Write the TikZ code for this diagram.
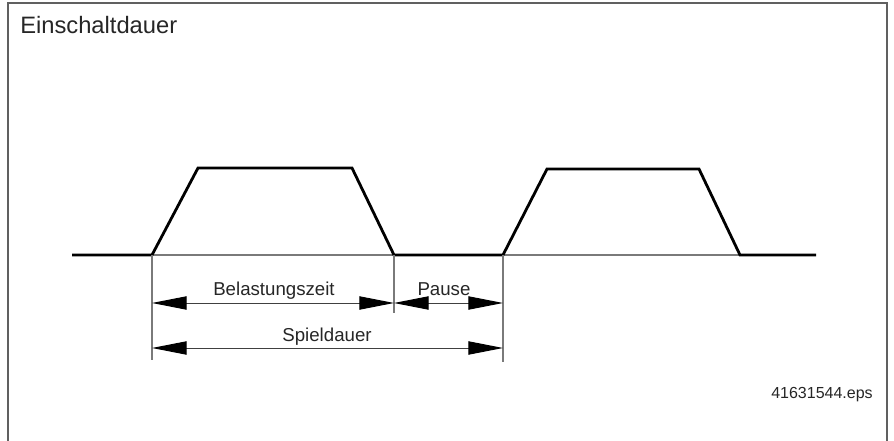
\documentclass[tikz,border=0pt]{standalone}
\usepackage{fontspec}
\setmainfont{Liberation Sans}
\usetikzlibrary{arrows.meta}
\definecolor{framegray}{HTML}{606060}
\definecolor{thingray}{HTML}{7A7A7A}
\tikzset{
  frameline/.style={draw=framegray, line width=1.4pt},
  signal/.style={draw=black, line width=2.1pt, line join=miter},
  baseline/.style={draw=thingray, line width=0.9pt},
  extline/.style={draw=thingray, line width=0.9pt},
  dimline/.style={draw=black!75, line width=0.7pt},
  tip/.tip={Triangle[length=26pt, width=10pt, fill=black, color=black]},
  lbl/.style={font=\fontsize{14pt}{16pt}\selectfont, text=black!85, anchor=base, inner sep=0pt},
}
\begin{document}
\begin{tikzpicture}[x=0.75pt, y=-0.75pt]
\useasboundingbox (0,0) rectangle (894,441);
% frame
\coordinate (fbl) at (8,441);
\coordinate (ftl) at (8,3);
\coordinate (ftr) at (887,3);
\coordinate (fbr) at (887,441);
\draw[frameline] (fbl) -- (ftl) -- (ftr) -- (fbr);
\node[font=\fontsize{17.8pt}{20pt}\selectfont, text=black!85, anchor=base west, inner sep=0pt] (title) at (20,34) {Einschaltdauer};
\node[font=\fontsize{12pt}{14pt}\selectfont, text=black!85, anchor=base east, inner sep=0pt] (fname) at (873,399) {41631544.eps};
% key points
\coordinate (s0) at (72,255);
\coordinate (a0) at (152,255);
\coordinate (a1) at (198,168);
\coordinate (a2) at (352,168);
\coordinate (a3) at (394,255);
\coordinate (b0) at (503,255);
\coordinate (b1) at (547,169);
\coordinate (b2) at (699,169);
\coordinate (b3) at (740,255);
\coordinate (e0) at (816,255);
% thin baseline
\draw[baseline] (a0) -- (b3);
% signal
\draw[signal] (s0) -- (a0) -- (a1) -- (a2) -- (a3) -- (b0) -- (b1) -- (b2) -- (b3) -- (e0);
% extension lines
\coordinate (a0d) at (152,360);
\coordinate (a3d) at (394,313);
\coordinate (b0d) at (503,362);
\draw[extline] (a0) -- (a0d);
\draw[extline] (a3) -- (a3d);
\draw[extline] (b0) -- (b0d);
% dimension arrows
\coordinate (d1l) at (152,303);
\coordinate (d1r) at (394,303);
\coordinate (d2r) at (503,303);
\coordinate (d3l) at (152,348);
\coordinate (d3r) at (503,348);
\draw[dimline, {tip}-{tip}] (d1l) -- (d1r);
\draw[dimline, {tip}-{tip}] (d1r) -- (d2r);
\draw[dimline, {tip}-{tip}] (d3l) -- (d3r);
\node[lbl] (belast) at (274,296) {Belastungszeit};
\node[lbl] (pause) at (444,296) {Pause};
\node[lbl] (spiel) at (327,342) {Spieldauer};
\end{tikzpicture}
\end{document}
